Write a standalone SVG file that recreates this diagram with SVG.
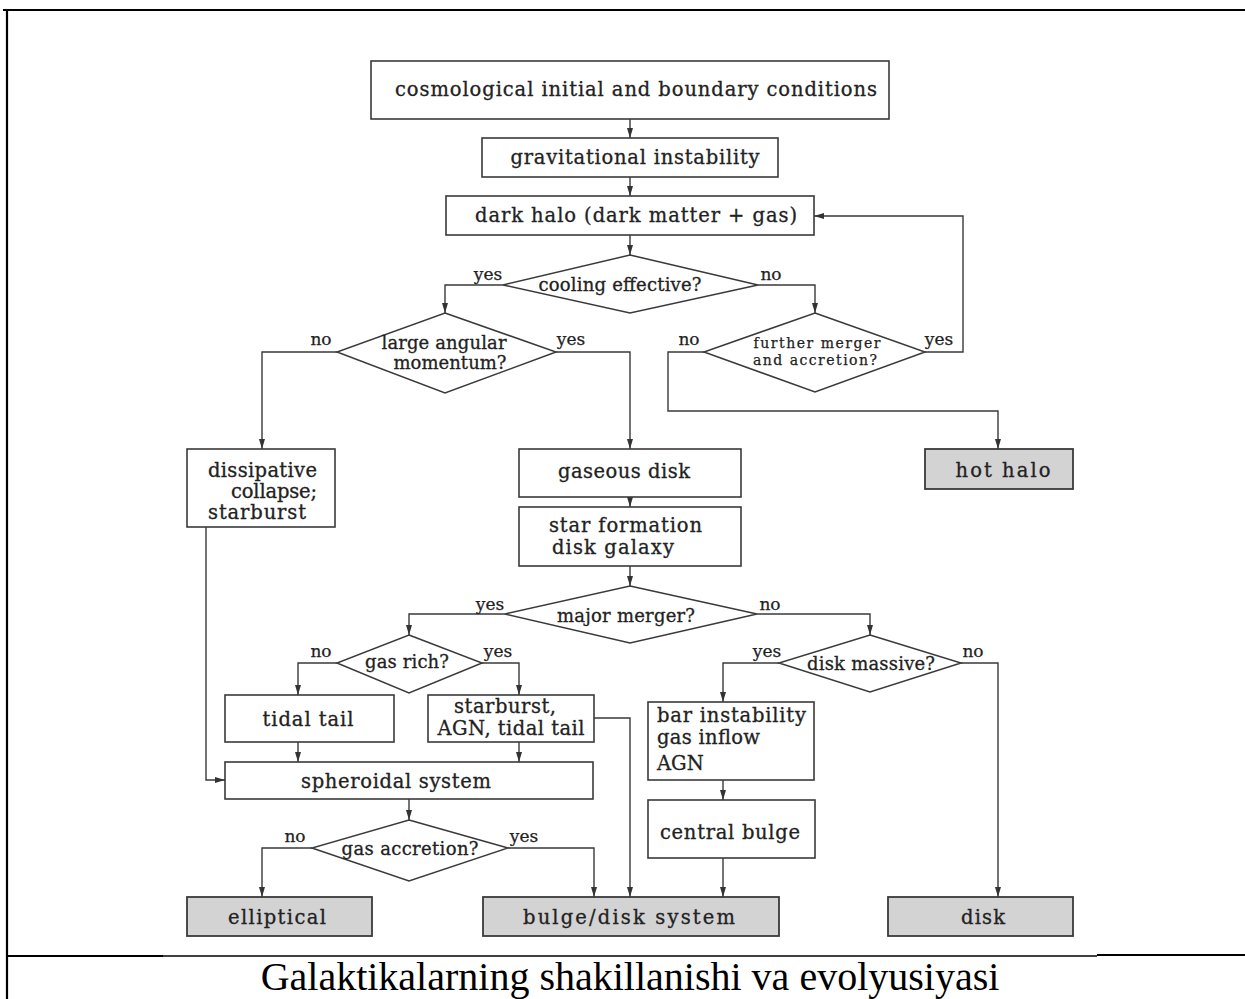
<svg xmlns="http://www.w3.org/2000/svg" width="1245" height="999" viewBox="0 0 1245 999">
<defs>
<marker id="ah" viewBox="0 0 10 10" refX="10" refY="5" markerWidth="10" markerHeight="10" markerUnits="userSpaceOnUse" orient="auto">
<path d="M0,2 L10,5 L0,8 Z" fill="#333"/>
</marker>
</defs>
<style>
.bx{fill:#fff;stroke:#3a3a3a;stroke-width:1.6}
.gr{fill:#d3d3d3;stroke:#3a3a3a;stroke-width:1.8}
.dm{fill:#fff;stroke:#3a3a3a;stroke-width:1.5}
.c{fill:none;stroke:#3a3a3a;stroke-width:1.4;marker-end:url(#ah)}
text{font-family:"DejaVu Serif","Liberation Serif",serif;fill:#222}
.t{font-size:19.5px;stroke:#222;stroke-width:0.3}
.d{font-size:18px;stroke:#222;stroke-width:0.3}
.s{font-size:14px;stroke:#222;stroke-width:0.25}
.l{font-size:17px;text-anchor:middle;stroke:#222;stroke-width:0.25}
.m{text-anchor:middle}
.cap{font-family:"Liberation Serif","Times New Roman",serif;font-size:40px;fill:#000;text-anchor:middle}
.fr{stroke:#000;fill:none}
</style>
<g id="frame">
<line class="fr" x1="3" y1="10" x2="1245" y2="10" stroke-width="2.2"/>
<line class="fr" x1="7" y1="10" x2="7" y2="999" stroke-width="2.2"/>
<line class="fr" x1="7" y1="956" x2="163" y2="956" stroke-width="2.2"/>
<line class="fr" x1="163" y1="956" x2="1097" y2="956" stroke-width="1.4"/>
<line class="fr" x1="1097" y1="955" x2="1245" y2="955" stroke-width="2.2"/>
</g>
<g id="connectors">
<path class="c" d="M630,119 V138"/>
<path class="c" d="M630,177 V196"/>
<path class="c" d="M630,235 V255"/>
<path class="c" d="M503,285 H445 V313"/>
<path class="c" d="M758,285 H815 V313"/>
<path class="c" d="M337,352 H262 V449"/>
<path class="c" d="M556,352 H630 V449"/>
<path class="c" d="M925,352 H963 V216 H814"/>
<path class="c" d="M704,352 H668 V411 H998 V449"/>
<path class="c" d="M630,497 V507"/>
<path class="c" d="M630,566 V586"/>
<path class="c" d="M505,614 H409 V635"/>
<path class="c" d="M757,614 H870 V635"/>
<path class="c" d="M337,663 H298 V695"/>
<path class="c" d="M482,663 H519 V695"/>
<path class="c" d="M298,742 V762"/>
<path class="c" d="M519,742 V762"/>
<path class="c" d="M594,718 H630 V897"/>
<path class="c" d="M206,527 V780 H225"/>
<path class="c" d="M409,799 V820"/>
<path class="c" d="M312,848 H262 V897"/>
<path class="c" d="M508,848 H594 V897"/>
<path class="c" d="M779,663 H723 V702"/>
<path class="c" d="M961,663 H998 V897"/>
<path class="c" d="M723,780 V800"/>
<path class="c" d="M723,858 V897"/>
</g>
<g id="n-cosmo">
<rect class="bx" x="371" y="61" width="518" height="58"/>
<text class="t m" x="636" y="96" textLength="482">cosmological initial and boundary conditions</text>
</g>
<g id="n-grav">
<rect class="bx" x="482" y="138" width="296" height="39"/>
<text class="t m" x="635" y="164" textLength="249">gravitational instability</text>
</g>
<g id="n-halo">
<rect class="bx" x="446" y="196" width="368" height="39"/>
<text class="t m" x="636" y="222" textLength="322">dark halo (dark matter + gas)</text>
</g>
<g id="n-cooling">
<polygon class="dm" points="630,255 758,285 630,313 503,285"/>
<text class="d m" x="620" y="291" textLength="163">cooling effective?</text>
<text class="l" x="488" y="280">yes</text>
<text class="l" x="771" y="280">no</text>
</g>
<g id="n-angular">
<polygon class="dm" points="445,313 556,352 445,393 337,352"/>
<text class="d m" x="444" y="349" textLength="125">large angular</text>
<text class="d m" x="450" y="369" textLength="113">momentum?</text>
<text class="l" x="321" y="345">no</text>
<text class="l" x="571" y="345">yes</text>
</g>
<g id="n-further">
<polygon class="dm" points="815,313 925,352 815,392 704,352"/>
<text class="s m" x="817" y="348" textLength="127">further merger</text>
<text class="s m" x="815" y="365" textLength="124">and accretion?</text>
<text class="l" x="689" y="345">no</text>
<text class="l" x="939" y="345">yes</text>
</g>
<g id="n-dissipative">
<rect class="bx" x="187" y="449" width="148" height="78"/>
<text class="t" x="208" y="477" textLength="109">dissipative</text>
<text class="t" x="231" y="498" textLength="86">collapse;</text>
<text class="t" x="208" y="519" textLength="98">starburst</text>
</g>
<g id="n-gaseous">
<rect class="bx" x="519" y="449" width="222" height="48"/>
<text class="t m" x="624" y="478" textLength="132">gaseous disk</text>
</g>
<g id="n-hothalo">
<rect class="gr" x="925" y="449" width="148" height="40"/>
<text class="t m" x="1003" y="477" textLength="95">hot halo</text>
</g>
<g id="n-starform">
<rect class="bx" x="519" y="507" width="222" height="59"/>
<text class="t" x="549" y="532" textLength="153">star formation</text>
<text class="t" x="552" y="554" textLength="122">disk galaxy</text>
</g>
<g id="n-major">
<polygon class="dm" points="630,586 757,614 630,643 505,614"/>
<text class="d m" x="626" y="622" textLength="138">major merger?</text>
<text class="l" x="490" y="610">yes</text>
<text class="l" x="770" y="610">no</text>
</g>
<g id="n-gasrich">
<polygon class="dm" points="409,635 482,663 409,693 337,663"/>
<text class="d m" x="407" y="668" textLength="84">gas rich?</text>
<text class="l" x="321" y="657">no</text>
<text class="l" x="498" y="657">yes</text>
</g>
<g id="n-diskmassive">
<polygon class="dm" points="870,635 961,663 870,692 779,663"/>
<text class="d m" x="871" y="670" textLength="128">disk massive?</text>
<text class="l" x="767" y="657">yes</text>
<text class="l" x="973" y="657">no</text>
</g>
<g id="n-tidal">
<rect class="bx" x="225" y="695" width="169" height="47"/>
<text class="t m" x="308" y="726" textLength="91">tidal tail</text>
</g>
<g id="n-starburst">
<rect class="bx" x="428" y="695" width="166" height="47"/>
<text class="t m" x="505" y="713" textLength="102">starburst,</text>
<text class="t m" x="511" y="735" textLength="147">AGN, tidal tail</text>
</g>
<g id="n-bar">
<rect class="bx" x="648" y="702" width="166" height="78"/>
<text class="t" x="657" y="722" textLength="149">bar instability</text>
<text class="t" x="657" y="744" textLength="103">gas inflow</text>
<text class="t" x="657" y="770">AGN</text>
</g>
<g id="n-spheroidal">
<rect class="bx" x="225" y="762" width="368" height="37"/>
<text class="t m" x="396" y="788" textLength="190">spheroidal system</text>
</g>
<g id="n-bulge">
<rect class="bx" x="648" y="800" width="167" height="58"/>
<text class="t m" x="730" y="839" textLength="140">central bulge</text>
</g>
<g id="n-gasacc">
<polygon class="dm" points="409,820 508,848 409,881 312,848"/>
<text class="d m" x="410" y="855" textLength="137">gas accretion?</text>
<text class="l" x="295" y="842">no</text>
<text class="l" x="524" y="842">yes</text>
</g>
<g id="n-elliptical">
<rect class="gr" x="187" y="897" width="185" height="39"/>
<text class="t m" x="277" y="924" textLength="98">elliptical</text>
</g>
<g id="n-bulgedisk">
<rect class="gr" x="483" y="897" width="296" height="39"/>
<text class="t m" x="629" y="924" textLength="212">bulge/disk system</text>
</g>
<g id="n-disk">
<rect class="gr" x="888" y="897" width="185" height="39"/>
<text class="t m" x="983" y="924" textLength="44">disk</text>
</g>
<g id="caption">
<text class="cap" x="630" y="990">Galaktikalarning shakillanishi va evolyusiyasi</text>
</g>
</svg>
